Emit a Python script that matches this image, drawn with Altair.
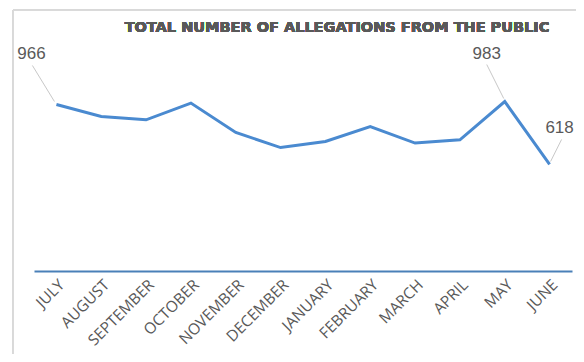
import altair as alt
import pandas as pd

months = ["July", "August", "September", "October", "November", "December",
          "January", "February", "March", "April", "May", "June"]
values = [966, 896, 877, 974, 804, 716, 751, 838, 742, 761, 983, 618]
title_text = "TOTAL NUMBER OF ALLEGATIONS FROM THE PUBLIC"

df = pd.DataFrame({"month": months, "value": values})

LINE = "#4a8ad0"
GRAY = "#595959"

x = alt.X("month:N", sort=months,
          scale=alt.Scale(type="point", padding=0.5),
          axis=alt.Axis(title=None, labelAngle=-45, labelAlign="right",
                        labelBaseline="top", labelPadding=6,
                        labelExpr="upper(datum.label)",
                        labelFont="Open Sans", labelFontSize=15.5,
                        labelColor=GRAY, ticks=False, grid=False,
                        domainColor="#4a80b8", domainWidth=2))
y = alt.Y("value:Q", scale=alt.Scale(domain=[0, 1340]), axis=None)

base = alt.Chart(df)

line = base.mark_line(color=LINE, strokeWidth=3).encode(x=x, y=y)

frame_v = base.mark_rule(color="#d9d9d9", strokeWidth=1).encode(
    x=alt.value(-21), y=alt.value(-30), y2=alt.value(330))
frame_h = base.mark_rule(color="#d9d9d9", strokeWidth=1).encode(
    x=alt.value(-21), x2=alt.value(560), y=alt.value(-30))

title = base.mark_text(font="DejaVu Sans", fontSize=14.5, fontWeight="bold",
                       color=GRAY, align="center", baseline="alphabetic").encode(
    x=alt.value(303), y=alt.value(-8), text=alt.value(title_text))

def callout(month, dx, dy, sx, sy, ex, ey):
    sub = base.transform_filter(alt.datum.month == month)
    rule = sub.mark_rule(color="#c8c8c8", strokeWidth=1,
                         xOffset=sx, yOffset=sy, x2Offset=ex, y2Offset=ey).encode(
        x=x, y=y, x2=alt.X2("month:N"), y2=alt.Y2("value:Q"))
    txt = sub.mark_text(dx=dx, dy=dy, font="Liberation Sans", fontSize=17,
                        color=GRAY, align="center", baseline="middle").encode(
        x=x, y=y, text=alt.Text("value:Q"))
    return rule + txt

c1 = callout("July", -25, -50, -2, -3, -24, -39)
c2 = callout("May", -18, -48, -1, -3, -18, -37)
c3 = callout("June", 10, -36, 1, -3, 12, -25)

chart = alt.layer(frame_v, frame_h, title, line, c1, c2, c3).properties(
    width=538, height=231,
    autosize=alt.AutoSizeParams(type="none"),
    padding={"left": 26, "top": 32, "right": 4, "bottom": 83},
).configure_view(stroke=None)

chart.save("out.html", embed_options={"renderer": "svg", "actions": False})
